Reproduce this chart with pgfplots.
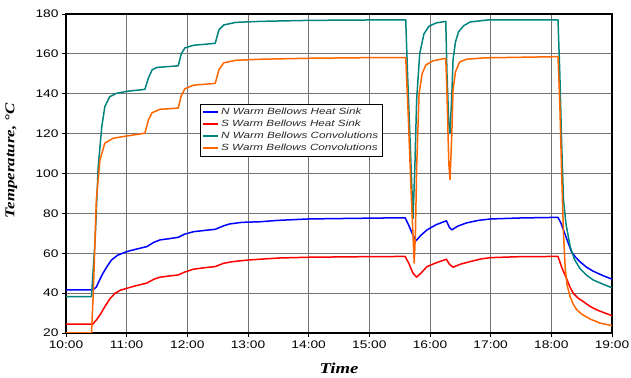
\documentclass[border=0pt]{standalone}
\usepackage{fontspec}
\setmainfont{Liberation Sans}[FakeStretch=1.25]
\newfontfamily\legfont{Liberation Sans}[FakeStretch=1.3]
\newfontfamily\serifb{Liberation Serif}[FakeStretch=1.25]
\usepackage{pgfplots}
\pgfplotsset{compat=1.18}
\definecolor{cblue}{RGB}{0,0,255}
\definecolor{cred}{RGB}{255,0,0}
\definecolor{cteal}{RGB}{0,132,128}
\definecolor{corange}{RGB}{255,102,0}
\definecolor{legtext}{RGB}{40,40,40}
\begin{document}
\begin{tikzpicture}
\begin{axis}[
  scale only axis, width=546pt, height=319pt,
  xmin=10, xmax=19, ymin=20, ymax=180,
  xtick={10,11,...,19},
  xticklabels={10:00,11:00,12:00,13:00,14:00,15:00,16:00,17:00,18:00,19:00},
  ytick={20,40,...,180},
  /pgf/number format/assume math mode=true,
  tick label style={font=\fontsize{11}{13}\selectfont},
  xtick pos=left, ytick pos=left, tick align=outside,
  major tick length=4pt,
  every tick/.style={black, line width=0.8pt},
  grid=major,
  major grid style={black!55, line width=0.8pt},
  axis line style={black, line width=1.2pt},
  xlabel={\serifb\bfseries\itshape\fontsize{15}{17}\selectfont Time},
  ylabel={\serifb\bfseries\itshape\fontsize{13.5}{15}\selectfont Temperature, \textdegree C},
  xlabel style={at={(axis description cs:0.5,-0.11)}, anchor=center},
  ylabel style={at={(axis description cs:-0.1,0.54)}, anchor=center, rotate=0},
  legend style={at={(rel axis cs:0.245,0.718)}, anchor=north west,
    draw=black, line width=0.8pt, fill=white, text=legtext,
    font=\legfont\itshape\fontsize{9}{11}\selectfont,
    inner xsep=2pt, inner ysep=2pt, row sep=0pt},
  legend cell align=left,
  legend image code/.code={\draw[#1, line width=2pt] (0pt,0pt) -- (15pt,0pt);},
  every axis plot/.append style={line width=1.5pt, line join=round},
]
\addplot[cblue] coordinates {
(10,41.6)(10.44,41.6)(10.5,43)(10.56,47)(10.61,50)(10.68,53.5)(10.75,56.6)(10.85,59)(11.0,60.8)(11.15,62)(11.33,63.3)(11.45,65.5)(11.55,66.7)(11.7,67.3)(11.85,68)(11.95,69.5)(12.1,70.8)(12.3,71.5)(12.46,72)(12.6,73.8)(12.7,74.7)(12.9,75.5)(13.2,75.8)(13.5,76.5)(14,77.2)(15,77.6)(15.59,77.8)(15.65,74)(15.72,69)(15.77,66.3)(15.85,69)(15.95,71.7)(16.1,74.3)(16.27,76.3)(16.32,73)(16.36,71.7)(16.45,73.5)(16.6,75.2)(16.8,76.5)(17,77.2)(17.5,77.7)(18.11,78)(18.16,75)(18.22,70)(18.28,65)(18.33,60.8)(18.4,58)(18.47,55.8)(18.58,53)(18.69,51)(18.85,48.8)(19,47)
};
\addlegendentry{N Warm Bellows Heat Sink}
\addplot[cred] coordinates {
(10,24.4)(10.44,24.4)(10.5,26.5)(10.57,29.5)(10.64,33.2)(10.72,37)(10.81,40)(10.9,41.5)(11.0,42.4)(11.15,43.7)(11.33,45)(11.45,47)(11.55,48)(11.7,48.6)(11.85,49.1)(11.95,50.5)(12.1,52)(12.3,52.8)(12.46,53.3)(12.6,55)(12.75,55.8)(13,56.6)(13.2,57)(13.5,57.6)(14,58)(15,58.3)(15.59,58.4)(15.65,55)(15.72,50)(15.78,48)(15.85,50)(15.95,53.3)(16.1,55.2)(16.27,57)(16.32,54.5)(16.38,53)(16.5,54.5)(16.66,55.8)(16.85,57.2)(17,57.8)(17.5,58.3)(18.11,58.4)(18.17,53)(18.25,47.4)(18.3,43.5)(18.36,40)(18.44,37.5)(18.53,35.7)(18.64,33.3)(18.75,31.6)(18.9,29.8)(19,28.7)
};
\addlegendentry{S Warm Bellows Heat Sink}
\addplot[cteal] coordinates {
(10,38.2)(10.42,38.2)(10.48,66.7)(10.53,103)(10.59,123.5)(10.64,133.5)(10.72,138.5)(10.83,140.2)(11.0,141.2)(11.3,142.2)(11.36,148)(11.42,152)(11.5,153.2)(11.85,154)(11.9,160)(11.96,163)(12.1,164.3)(12.46,165.3)(12.52,172)(12.6,174.5)(12.8,175.8)(13.2,176.3)(14,176.8)(15,177)(15.6,177)(15.63,150)(15.68,110)(15.72,77.5)(15.75,103)(15.78,137)(15.83,160)(15.9,170)(15.98,173.8)(16.1,175.5)(16.26,176.3)(16.28,150)(16.31,125)(16.33,120)(16.36,140)(16.38,157)(16.42,166)(16.47,171)(16.55,174)(16.66,176)(16.95,177)(18.11,177)(18.14,150)(18.17,115)(18.2,87)(18.24,75)(18.31,63.3)(18.38,57)(18.47,52.4)(18.58,49)(18.69,46.6)(18.85,44.5)(19,42.7)
};
\addlegendentry{N Warm Bellows Convolutions}
\addplot[corange] coordinates {
(10,20)(10.42,20)(10.45,40)(10.5,86.7)(10.56,106.8)(10.64,115.2)(10.78,117.7)(11.0,118.8)(11.3,120.2)(11.36,127)(11.42,130.5)(11.55,132.2)(11.85,132.8)(11.9,139)(11.96,142.5)(12.1,144.3)(12.46,145.2)(12.52,152)(12.6,155.5)(12.8,156.8)(13.2,157.3)(14,157.8)(15,158.1)(15.6,158.1)(15.64,130)(15.69,90)(15.74,55)(15.76,70)(15.78,103)(15.82,140)(15.87,150)(15.93,154.4)(16.05,156.5)(16.26,157.8)(16.28,140)(16.31,105)(16.33,97)(16.36,120)(16.38,142)(16.42,151)(16.49,156)(16.6,157.3)(16.9,158)(18.11,158.6)(18.14,135)(18.17,100)(18.2,70)(18.23,52)(18.26,44)(18.31,38.2)(18.36,34.5)(18.42,31.6)(18.5,29.5)(18.64,27)(18.8,25)(19,23.7)
};
\addlegendentry{S Warm Bellows Convolutions}
\end{axis}
\pgfresetboundingbox
\path (-66pt,-44pt) rectangle (565pt,333pt);
\end{tikzpicture}
\end{document}
